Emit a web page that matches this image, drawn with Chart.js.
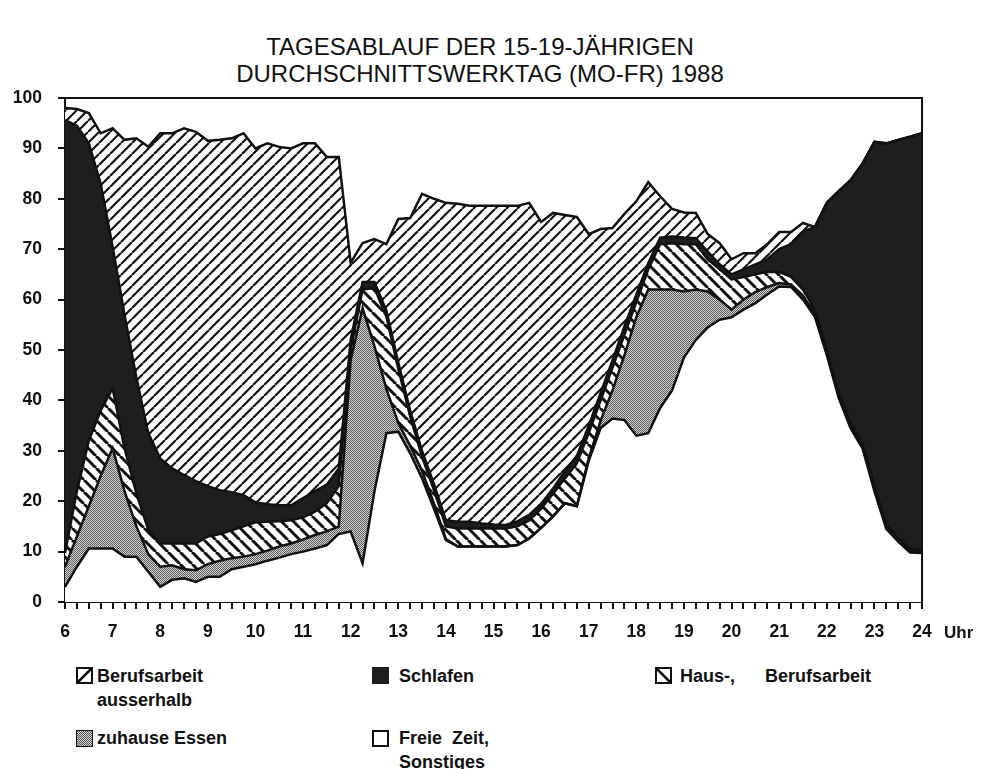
<!DOCTYPE html>
<html>
<head>
<meta charset="utf-8">
<title>Tagesablauf der 15-19-Jährigen</title>
<script src="https://cdn.jsdelivr.net/npm/chart.js@4.4.1/dist/chart.umd.min.js"></script>
<style>
  body { margin: 0; background: #fff; width: 982px; height: 769px; position: relative; overflow: hidden;
         font-family: "Liberation Sans", Arial, sans-serif; color: #111; }
  #title { position: absolute; left: 0; width: 960px; top: 33px; text-align: center; font-size: 24px; line-height: 27px; }
  #chart { position: absolute; left: 0; top: 0; }
  .sw { position: absolute; width: 17px; height: 17px; }
  .lt { position: absolute; font-size: 18px; font-weight: bold; line-height: 24px; white-space: pre; }
</style>
</head>
<body>
<div id="title">TAGESABLAUF DER 15-19-JÄHRIGEN<br>DURCHSCHNITTSWERKTAG (MO-FR) 1988</div>
<canvas id="chart" width="982" height="660"></canvas>

<svg class="sw" style="left:76px;top:667px" viewBox="0 0 17 17"><rect x="1" y="1" width="15" height="15" fill="#fff" stroke="#111" stroke-width="2"/><line x1="2" y1="15" x2="15" y2="2" stroke="#111" stroke-width="2.5"/></svg>
<div class="lt" style="left:97px;top:664px">Berufsarbeit
ausserhalb</div>

<svg class="sw" style="left:372px;top:667px" viewBox="0 0 17 17"><rect x="0" y="0" width="17" height="17" fill="#1e1e1e"/></svg>
<div class="lt" style="left:399px;top:664px">Schlafen</div>

<svg class="sw" style="left:655px;top:667px" viewBox="0 0 17 17"><rect x="1" y="1" width="15" height="15" fill="#fff" stroke="#111" stroke-width="2"/><line x1="2" y1="2" x2="15" y2="15" stroke="#111" stroke-width="2.5"/></svg>
<div class="lt" style="left:680px;top:664px">Haus-,      Berufsarbeit</div>

<svg class="sw" style="left:76px;top:730px" viewBox="0 0 17 17"><defs><pattern id="dots" width="2" height="2" patternUnits="userSpaceOnUse"><rect width="2" height="2" fill="#d6d6d6"/><rect width="1" height="1" fill="#555"/><rect x="1" y="1" width="1" height="1" fill="#555"/></pattern></defs><rect x="0" y="0" width="17" height="17" fill="url(#dots)" stroke="#111" stroke-width="2"/></svg>
<div class="lt" style="left:97px;top:726px">zuhause Essen</div>

<svg class="sw" style="left:372px;top:730px" viewBox="0 0 17 17"><rect x="1" y="1" width="15" height="15" fill="#fff" stroke="#111" stroke-width="2"/></svg>
<div class="lt" style="left:399px;top:726px">Freie  Zeit,
Sonstiges</div>

<script>
// quarter hours 6:00 - 24:00
var times = ['6:00','6:15','6:30','6:45','7:00','7:15','7:30','7:45','8:00','8:15','8:30','8:45',
  '9:00','9:15','9:30','9:45','10:00','10:15','10:30','10:45','11:00','11:15','11:30','11:45',
  '12:00','12:15','12:30','12:45','13:00','13:15','13:30','13:45','14:00','14:15','14:30','14:45',
  '15:00','15:15','15:30','15:45','16:00','16:15','16:30','16:45','17:00','17:15','17:30','17:45',
  '18:00','18:15','18:30','18:45','19:00','19:15','19:30','19:45','20:00','20:15','20:30','20:45',
  '21:00','21:15','21:30','21:45','22:00','22:15','22:30','22:45','23:00','23:15','23:30','23:45','24:00'];

// percent of the 15-19 year olds, stacked from the bottom
var freieZeit = [3, 7, 10.6, 10.6, 10.6, 9, 9, 6, 3, 4.4, 4.7, 4, 5, 5, 6.5, 7,
  7.5, 8.2, 8.8, 9.5, 10, 10.6, 11.3, 13.5, 14, 7.7, 22, 33.5, 33.8, 29.5, 24.5, 18.5,
  12.3, 11, 11, 11, 11, 11, 11.3, 12.6, 14.7, 17, 19.6, 19, 28, 34.5, 36.4, 36.1,
  33, 33.5, 38.5, 42, 48.5, 52, 54.5, 56, 56.5, 58, 59.3, 61, 62.6, 62.5, 60, 56.6,
  49, 40.5, 34.5, 30.5, 22, 14.5, 12, 9.8, 9.7];
var zuhauseEssen = [4, 6, 8.4, 14.4, 19.9, 13, 6, 3.5, 4, 2.9, 1.8, 2.3, 2.5, 3.2, 2.2, 2,
  2, 2, 2.2, 2.1, 2.4, 2.7, 2.7, 1.5, 34, 50.6, 28.7, 8.8, 1.7, 1.5, 1.5, 1,
  0.2, 0, 0, 0, 0, 0, 0, 0, 0, 0, 0, 0, 0.5, 1.5, 5.6, 12.9,
  23.5, 28.5, 23.5, 20, 13.1, 10, 7.1, 4, 1.5, 2, 2.2, 1.5, 0.7, 0.5, 0.8, 0.4,
  0.5, 0.5, 0.5, 0.5, 0.5, 0.5, 0.4, 0.4, 0.4];
var hausarbeit = [2.7, 9, 13, 13, 11.9, 8.5, 6.5, 4.8, 4.6, 4.3, 5.1, 5.3, 5.5, 5.3, 5.5, 6,
  6.3, 5.7, 5, 4.6, 4.4, 4.6, 5.6, 8, 2, 3.7, 11.6, 14.3, 10.8, 5.8, 2.8, 2.7,
  2.5, 3.6, 3.6, 3.6, 3.6, 3.6, 3.7, 3.6, 3.8, 4.5, 4.9, 8.5, 5, 4, 4.5, 4,
  3, 4, 9, 9.2, 9.4, 9, 6.4, 6, 6, 4.5, 3.5, 3, 2.2, 1.5, 1.2, 1,
  0.5, 0.5, 0.5, 0.5, 0.5, 0.3, 0.3, 0.3, 0.3];
var schlafen = [85.9, 72.5, 59, 45, 28.1, 26.5, 23, 19.2, 16.9, 14.9, 13.6, 12.4, 10, 8.7, 7.6, 6.2,
  4, 3.5, 3.2, 3, 3.8, 4.1, 3.7, 3.5, 2, 1.5, 1.2, 1.2, 1.2, 1.2, 1.2, 1.2,
  1.2, 1.3, 1.3, 1, 0.8, 0.7, 1, 1.1, 1, 1, 1.5, 1.5, 1.5, 1.5, 1.5, 1.7,
  1.5, 1.2, 1.3, 1.3, 1.3, 1.2, 1.5, 1, 1, 1.5, 2, 2.5, 4.5, 6.5, 11.5, 16.4,
  29.2, 40, 48.2, 55.5, 68.3, 75.7, 79, 81.8, 82.6];
var berufsarbeit = [2.4, 3.3, 6, 10, 23.5, 34.7, 47.5, 56.8, 64.5, 66.5, 68.8, 69.3, 68.5, 69.5, 70.2, 71.8,
  70.2, 71.6, 71.1, 70.8, 70.4, 69, 65, 61.8, 15.3, 7.7, 8.5, 13.2, 28.5, 38.2, 51, 56.6,
  63, 63.1, 62.7, 63, 63.2, 63.3, 62.6, 61.9, 55.9, 54.7, 50.8, 47.4, 38, 32.5, 26.2, 22.3,
  18.5, 16.1, 8.2, 5.5, 5, 5, 3.5, 4.2, 3, 3.2, 2.2, 3, 3.4, 2.4, 1.7, 0,
  0, 0, 0, 0, 0, 0, 0, 0, 0];

function hatch(size, width, back) {
  var c = document.createElement('canvas');
  c.width = size; c.height = size;
  var g = c.getContext('2d');
  g.fillStyle = '#fff';
  g.fillRect(0, 0, size, size);
  g.strokeStyle = '#111';
  g.lineWidth = width;
  g.beginPath();
  for (var k = -1; k <= 1; k++) {
    if (back) { g.moveTo(k * size, 0); g.lineTo(k * size + size, size); }
    else { g.moveTo(k * size, size); g.lineTo(k * size + size, 0); }
  }
  g.stroke();
  return g.createPattern(c, 'repeat');
}

function stipple() {
  var c = document.createElement('canvas');
  c.width = 2; c.height = 2;
  var g = c.getContext('2d');
  g.fillStyle = '#d6d6d6';
  g.fillRect(0, 0, 2, 2);
  g.fillStyle = '#5a5a5a';
  g.fillRect(0, 0, 1, 1);
  g.fillRect(1, 1, 1, 1);
  return g.createPattern(c, 'repeat');
}

var frame = {
  id: 'frame',
  afterDraw: function (chart) {
    var a = chart.chartArea, ctx = chart.ctx;
    ctx.save();
    ctx.strokeStyle = '#111';
    ctx.lineWidth = 2;
    ctx.beginPath();
    ctx.moveTo(a.left, a.top);
    ctx.lineTo(a.right, a.top);
    ctx.lineTo(a.right, a.bottom);
    ctx.stroke();
    ctx.font = 'bold 17px "Liberation Sans", Arial, sans-serif';
    ctx.fillStyle = '#111';
    ctx.textBaseline = 'middle';
    ctx.fillText('Uhr', a.right + 22, 633);
    ctx.restore();
  }
};

var ink = '#111';
var tickFont = { family: '"Liberation Sans", Arial, sans-serif', size: 17.5, weight: 'bold' };

var ctx = document.getElementById('chart').getContext('2d');
var chart = new Chart(ctx, {
  type: 'line',
  data: {
    labels: times,
    datasets: [
      { label: 'Freie Zeit, Sonstiges', data: freieZeit, backgroundColor: '#fff', borderColor: ink, fill: 'origin' },
      { label: 'zuhause Essen', data: zuhauseEssen, backgroundColor: stipple(), borderColor: ink, fill: '-1' },
      { label: 'Haus-, Berufsarbeit', data: hausarbeit, backgroundColor: hatch(12, 3, true), borderColor: ink, fill: '-1' },
      { label: 'Schlafen', data: schlafen, backgroundColor: '#1e1e1e', borderColor: ink, fill: '-1' },
      { label: 'Berufsarbeit ausserhalb', data: berufsarbeit, backgroundColor: hatch(11, 2.2, false), borderColor: ink, fill: '-1' }
    ]
  },
  options: {
    responsive: false,
    animation: false,
    elements: {
      line: { borderWidth: 2.5, tension: 0 },
      point: { radius: 0 }
    },
    layout: { padding: { left: 0, right: 60, top: 98, bottom: 8 } },
    plugins: {
      legend: { display: false },
      tooltip: { enabled: false },
      filler: { drawTime: 'beforeDatasetsDraw' }
    },
    scales: {
      x: {
        offset: false,
        grid: { drawOnChartArea: false, tickLength: 7, color: ink, lineWidth: 2 },
        border: { color: ink, width: 2 },
        ticks: {
          autoSkip: false, maxRotation: 0, padding: 13, color: ink, font: tickFont,
          callback: function (v, i) { return times[i].endsWith(':00') ? times[i].slice(0, -3) : ''; }
        },
        afterFit: function (s) { s.height = 50; }
      },
      y: {
        stacked: true,
        min: 0,
        max: 100,
        grid: { drawOnChartArea: false, tickLength: 7, color: ink, lineWidth: 2 },
        border: { color: ink, width: 2 },
        ticks: { stepSize: 10, padding: 16, color: ink, font: tickFont },
        afterFit: function (s) { s.width = 65; }
      }
    }
  },
  plugins: [frame]
});
</script>
</body>
</html>
